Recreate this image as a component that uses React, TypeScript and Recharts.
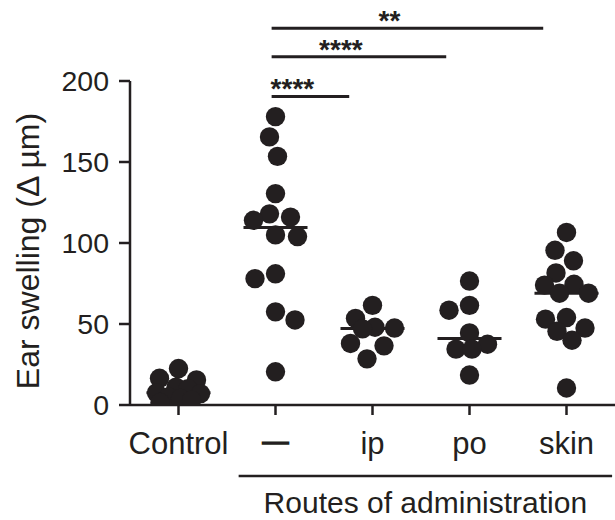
import React from 'react';
import { ScatterChart, Scatter, XAxis, YAxis, ReferenceLine } from 'recharts';

// group names on the x axis
const categories = ['Control', '—', 'ip', 'po', 'skin'];

// ear swelling (Δ µm) per animal
const control = [22.5, 16.5, 15.5, 11, 10, 7.5, 7, 5, 4, 3, 1.5];
const untreated = [178, 165.5, 153.5, 130.5, 118, 116, 114, 105, 104, 81, 78, 57.5, 52.5, 20.5];
const ip = [61.5, 53.5, 48, 47.5, 47, 38, 36.5, 28.5];
const po = [76.5, 61.5, 58.5, 44.5, 37.5, 34.5, 34.5, 18.5];
const skin = [106.5, 95.5, 89, 81.5, 74.5, 74, 69, 69, 54, 53, 47.5, 45.5, 40, 10.5];

const groups = [control, untreated, ip, po, skin];

const yTicks = [0, 50, 100, 150, 200];

// comparisons against the untreated group ("—")
const compareTo = [2, 3, 4];
const stars = ['****', '****', '**'];
const barHeights = [190.5, 215, 232.5];

const INK = '#231f20';
const FONT = '"Liberation Sans", Arial, Helvetica, sans-serif';

// plot box, needed to lay the dots out in pixels
const W = 615;
const H = 520;
const MARGIN = { top: 81, right: 0, bottom: 85, left: 0 };
const Y_AXIS_W = 130;
const X_AXIS_H = 30;
const PX_PER_X = (W - Y_AXIS_W - MARGIN.left - MARGIN.right) / categories.length;
const PX_PER_Y = (H - MARGIN.top - MARGIN.bottom - X_AXIS_H) / 200;
const R = 9.7;
const MIN_DIST = 21;
const MAX_SPREAD = 22;

const median = (vals: number[]) => {
  const s = [...vals].sort((a, b) => a - b);
  const m = Math.floor(s.length / 2);
  return s.length % 2 ? s[m] : (s[m - 1] + s[m]) / 2;
};

// greedy beeswarm with a fixed column width: highest value first, nearest free
// slot to the centre; if the column is full, take the least crowded slot
const swarm = (vals: number[]) => {
  const order = vals.map((v, i) => i).sort((a, b) => vals[b] - vals[a]);
  const placed: { x: number; y: number }[] = [];
  const offsets = new Array(vals.length).fill(0);
  let lastSide = 1;
  order.forEach((i) => {
    const y = vals[i] * PX_PER_Y;
    const gap = (x: number) =>
      placed.reduce((m, p) => Math.min(m, Math.hypot(p.x - x, p.y - y)), Infinity);
    let pick: number | null = null;
    let best = 0;
    let bestGap = -1;
    for (let d = 0; d <= MAX_SPREAD && pick === null; d += 0.5) {
      const cands = d === 0 ? [0] : [-lastSide * d, lastSide * d];
      for (const x of cands) {
        const g = gap(x);
        if (g >= MIN_DIST) {
          pick = x;
          break;
        }
        if (g > bestGap + 0.01) {
          bestGap = g;
          best = x;
        }
      }
    }
    const x = pick !== null ? pick : best;
    placed.push({ x, y });
    offsets[i] = x;
    if (x !== 0) lastSide = Math.sign(x);
  });
  return offsets;
};

const series = groups.map((vals, gi) => {
  const off = swarm(vals);
  return vals.map((v, i) => ({ x: gi + off[i] / PX_PER_X, y: v }));
});

const Dot = (props: any) => {
  const { cx, cy } = props;
  if (cx == null || cy == null) return null;
  return <circle cx={cx} cy={cy} r={R} fill={INK} />;
};

const XTick = (props: any) => {
  const { x, y, payload } = props;
  const label = categories[payload.value];
  const isDash = label === '—';
  return (
    <text
      x={x}
      y={y}
      dy="0.71em"
      textAnchor="middle"
      fontFamily={FONT}
      fontSize={isDash ? 26 : 31}
      fill={INK}
      stroke={isDash ? INK : 'none'}
      strokeWidth={isDash ? 1.6 : 0}
    >
      {label}
    </text>
  );
};

const YTitle = (props: any) => {
  const vb = props.viewBox || { y: MARGIN.top, height: 324 };
  const cx = 28;
  const cy = vb.y + vb.height / 2 + 8;
  return (
    <text
      x={cx}
      y={cy}
      transform={`rotate(-90, ${cx}, ${cy})`}
      textAnchor="middle"
      dominantBaseline="central"
      fontFamily={FONT}
      fontSize={32}
      fill={INK}
    >
      Ear swelling (Δ µm)
    </text>
  );
};

const StarLabel = (props: any) => {
  const { viewBox, text } = props;
  if (!viewBox) return null;
  return (
    <text
      x={viewBox.x + viewBox.width / 2 - 18}
      y={viewBox.y + 2}
      textAnchor="middle"
      fontFamily={FONT}
      fontSize={28}
      fontWeight="bold"
      fill={INK}
    >
      {text}
    </text>
  );
};

const RoutesLabel = (props: any) => {
  const { viewBox } = props;
  if (!viewBox) return null;
  return (
    <text
      x={viewBox.x + viewBox.width / 2}
      y={viewBox.y + 37}
      textAnchor="middle"
      fontFamily={FONT}
      fontSize={30}
      fill={INK}
    >
      Routes of administration
    </text>
  );
};

export default function App() {
  return (
    <div style={{ position: 'absolute', left: 0, top: 0, width: W, height: H, background: '#fff' }}>
      <ScatterChart width={W} height={H} margin={MARGIN}>
        <XAxis
          type="number"
          dataKey="x"
          domain={[-0.5, 4.5]}
          ticks={[0, 1, 2, 3, 4]}
          allowDataOverflow
          height={X_AXIS_H}
          tick={<XTick />}
          tickSize={10}
          tickMargin={17}
          axisLine={{ stroke: INK, strokeWidth: 2.5 }}
          tickLine={{ stroke: INK, strokeWidth: 2.5 }}
        />
        <YAxis
          type="number"
          dataKey="y"
          domain={[0, 200]}
          ticks={yTicks}
          allowDataOverflow
          width={Y_AXIS_W}
          tickSize={11}
          tickMargin={10}
          tick={{ fontSize: 28.5, fill: INK, fontFamily: FONT }}
          axisLine={{ stroke: INK, strokeWidth: 2.5 }}
          tickLine={{ stroke: INK, strokeWidth: 2.5 }}
          label={<YTitle />}
        />
        {series.map((d, i) => (
          <Scatter key={i} data={d} shape={<Dot />} isAnimationActive={false} />
        ))}
        {groups.map((vals, i) => (
          <ReferenceLine
            key={'m' + i}
            segment={[{ x: i - 0.33, y: median(vals) }, { x: i + 0.33, y: median(vals) }]}
            stroke={INK}
            strokeWidth={3}
            ifOverflow="visible"
          />
        ))}
        {compareTo.map((to, i) => (
          <ReferenceLine
            key={'s' + i}
            segment={[{ x: 0.96, y: barHeights[i] }, { x: to - 0.24, y: barHeights[i] }]}
            stroke={INK}
            strokeWidth={3}
            ifOverflow="visible"
            label={<StarLabel text={stars[i]} />}
          />
        ))}
        <ReferenceLine
          segment={[{ x: 0.62, y: -43.8 }, { x: 4.47, y: -43.8 }]}
          stroke={INK}
          strokeWidth={2.5}
          ifOverflow="visible"
          label={<RoutesLabel />}
        />
      </ScatterChart>
    </div>
  );
}
